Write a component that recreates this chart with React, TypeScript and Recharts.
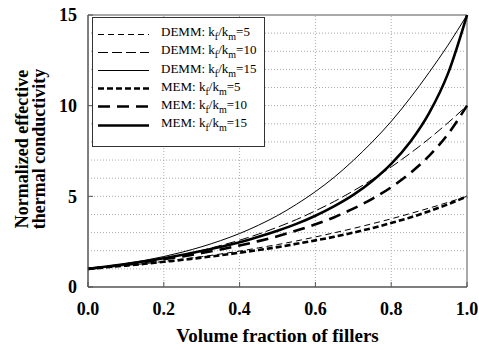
import React from 'react';
import {
    LineChart,
    Line,
    XAxis,
    YAxis,
    ReferenceLine,
    ReferenceArea,
    Legend
} from 'recharts';

// volume fraction of fillers
const phi = [0, 0.05, 0.1, 0.15, 0.2, 0.25, 0.3, 0.35, 0.4, 0.45, 0.5, 0.55, 0.6, 0.65, 0.7, 0.75, 0.8, 0.85, 0.9, 0.95, 1];

// normalized effective thermal conductivity
const demm5 = [1, 1.09, 1.19, 1.29, 1.41, 1.54, 1.67, 1.82, 1.98, 2.16, 2.34, 2.54, 2.76, 2.99, 3.23, 3.49, 3.76, 4.05, 4.35, 4.67, 5];
const demm10 = [1, 1.12, 1.26, 1.41, 1.59, 1.79, 2.02, 2.29, 2.58, 2.92, 3.3, 3.72, 4.2, 4.72, 5.3, 5.93, 6.62, 7.37, 8.18, 9.06, 10];
const demm15 = [1, 1.13, 1.29, 1.47, 1.68, 1.93, 2.22, 2.56, 2.95, 3.41, 3.94, 4.56, 5.26, 6.06, 6.98, 8.0, 9.13, 10.42, 11.83, 13.34, 15];
const mem5 = [1, 1.09, 1.18, 1.28, 1.39, 1.5, 1.62, 1.75, 1.89, 2.04, 2.2, 2.38, 2.57, 2.77, 3.0, 3.25, 3.53, 3.83, 4.18, 4.56, 5];
const mem10 = [1, 1.12, 1.24, 1.38, 1.53, 1.69, 1.87, 2.07, 2.29, 2.53, 2.8, 3.11, 3.46, 3.85, 4.32, 4.86, 5.5, 6.28, 7.23, 8.44, 10];
const mem15 = [1, 1.13, 1.27, 1.42, 1.59, 1.78, 1.98, 2.22, 2.47, 2.77, 3.1, 3.48, 3.93, 4.46, 5.08, 5.85, 6.79, 8.0, 9.59, 11.78, 15];

const xTicks = [0, 0.2, 0.4, 0.6, 0.8, 1];
const yTicks = [0, 5, 10, 15];
const xGrid = [0.2, 0.4, 0.6, 0.8];
const yGrid = [1, 2, 3, 4, 5, 6, 7, 8, 9, 10, 11, 12, 13, 14];

const series = [
    { key: 'demm5', model: 'DEMM', ratio: 5, width: 1, dash: '6 4' },
    { key: 'demm10', model: 'DEMM', ratio: 10, width: 1, dash: '10 4' },
    { key: 'demm15', model: 'DEMM', ratio: 15, width: 1, dash: undefined },
    { key: 'mem5', model: 'MEM', ratio: 5, width: 2.6, dash: '6 3' },
    { key: 'mem10', model: 'MEM', ratio: 10, width: 2.6, dash: '12 7' },
    { key: 'mem15', model: 'MEM', ratio: 15, width: 2.6, dash: undefined },
];

const data = phi.map((p, i) => ({
    phi: p,
    demm5: demm5[i],
    demm10: demm10[i],
    demm15: demm15[i],
    mem5: mem5[i],
    mem10: mem10[i],
    mem15: mem15[i],
}));

const FONT = '"Liberation Serif", "Times New Roman", serif';
const FRAME = '#555';

function LegendBox() {
    return (
        <div
            style={{
                width: 173,
                height: 130,
                boxSizing: 'border-box',
                border: '1px solid #333',
                background: '#fff',
                fontFamily: FONT,
                fontSize: 13,
                color: '#000',
                position: 'relative',
            }}
        >
            {series.map((s, i) => (
                <div
                    key={s.key}
                    style={{ position: 'absolute', left: 5, top: 7 + i * 18.2, height: 18, display: 'flex', alignItems: 'center', whiteSpace: 'nowrap' }}
                >
                    <svg width={51} height={7}>
                        <line x1={0} y1={3.5} x2={51} y2={3.5} stroke="#000" strokeWidth={s.width} strokeDasharray={s.dash} />
                    </svg>
                    <span style={{ marginLeft: 12, lineHeight: '13px' }}>
                        {s.model}: k<sub style={{ fontSize: 10 }}>f</sub>/k<sub style={{ fontSize: 10 }}>m</sub>={s.ratio}
                    </span>
                </div>
            ))}
        </div>
    );
}

function YTitle() {
    const cy = 149;
    const style = { fontFamily: FONT, fontWeight: 700, fontSize: 18, fill: '#000' };
    return (
        <g>
            <text x={28} y={cy} transform={`rotate(-90, 28, ${cy})`} textAnchor="middle" style={style}>
                Normalized effective
            </text>
            <text x={45} y={cy} transform={`rotate(-90, 45, ${cy})`} textAnchor="middle" style={style}>
                thermal conductivity
            </text>
        </g>
    );
}

export default function App() {
    return (
        <div style={{ width: 479, height: 350, background: '#fff' }}>
            <style>{'body{margin:0}'}</style>
            <LineChart width={479} height={350} data={data} margin={{ top: 15, right: 12, left: 0, bottom: 0 }}>
                {yGrid.map((v) => (
                    <ReferenceLine key={`hy${v}`} y={v} stroke="#aaa" strokeDasharray="1 2" />
                ))}
                {xGrid.map((v) => (
                    <ReferenceLine key={`vx${v}`} x={v} stroke="#aaa" strokeDasharray="1 2" />
                ))}
                <ReferenceArea x1={0} x2={1} y1={0} y2={15} fill="none" stroke={FRAME} strokeWidth={1} ifOverflow="visible" />
                <XAxis
                    dataKey="phi"
                    type="number"
                    domain={[0, 1]}
                    ticks={xTicks}
                    tickFormatter={(v: number) => v.toFixed(1)}
                    height={63}
                    tickSize={-5}
                    tickMargin={20}
                    stroke={FRAME}
                    tick={{ fill: '#000', fontSize: 18, fontWeight: 700, fontFamily: FONT }}
                    label={{ value: 'Volume fraction of fillers', position: 'insideBottom', offset: 8, fill: '#000', fontSize: 19, fontWeight: 700, fontFamily: FONT }}
                />
                <YAxis
                    type="number"
                    domain={[0, 15]}
                    ticks={yTicks}
                    width={88}
                    tickSize={-5}
                    tickMargin={16}
                    stroke={FRAME}
                    tick={{ fill: '#000', fontSize: 18, fontWeight: 700, fontFamily: FONT }}
                    label={{ content: () => <YTitle /> }}
                />
                <Legend
                    verticalAlign="middle"
                    align="center"
                    layout="horizontal"
                    content={() => <LegendBox />}
                    wrapperStyle={{ left: 92, top: 17, width: 173, height: 130 }}
                />
                {series.map((s) => (
                    <Line
                        key={s.key}
                        type="monotone"
                        dataKey={s.key}
                        stroke="#000"
                        strokeWidth={s.width}
                        strokeDasharray={s.dash}
                        dot={false}
                        isAnimationActive={false}
                    />
                ))}
            </LineChart>
        </div>
    );
}
